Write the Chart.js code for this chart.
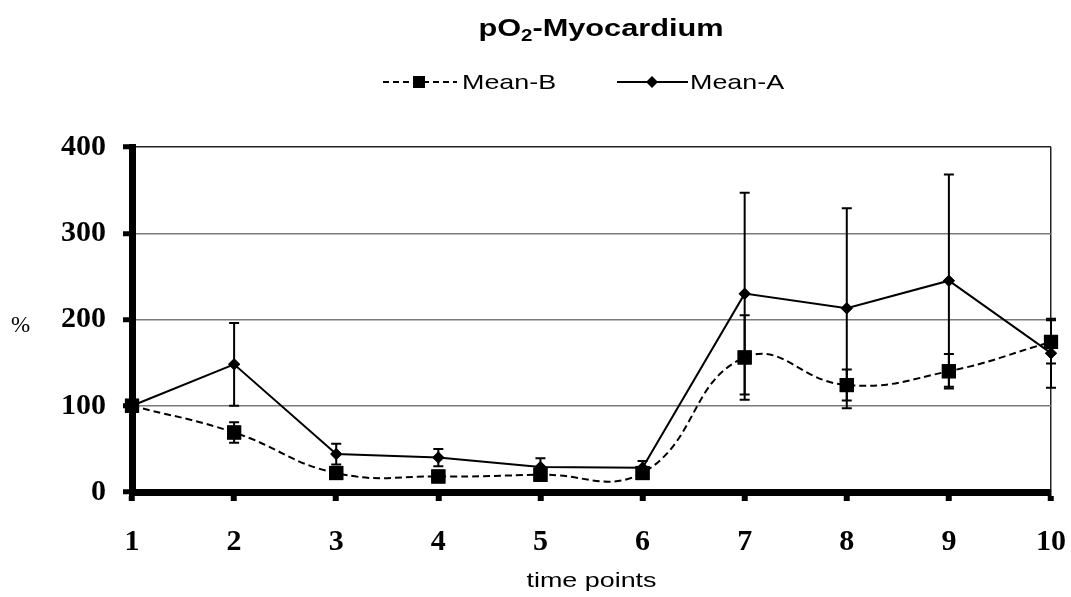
<!DOCTYPE html>
<html lang="en">
<head>
<meta charset="UTF-8">
<title>pO2-Myocardium</title>
<script src="https://cdn.jsdelivr.net/npm/chart.js"></script>
<style>
  html, body { margin: 0; padding: 0; background: #fff; }
  #wrap { width: 1071px; height: 597px; }
</style>
</head>
<body>
<div id="wrap"><canvas id="po2Chart" width="1071" height="597"></canvas></div>
<script>
// time points on the x axis
const timePoints = ['1', '2', '3', '4', '5', '6', '7', '8', '9', '10'];

// group B (dashed, squares) - mean and error
const meanB = [100, 69, 22, 18, 20, 22, 156, 124, 140, 174];
const errB  = [0, 12, 3, 3, 3, 3, 49, 18, 20, 25];

// group A (solid, diamonds) - mean and error
const meanA = [100, 148, 44, 40, 29, 28, 230, 213, 245, 161];
const errA  = [0, 48, 12, 10, 10, 8, 117, 116, 123, 40];

const yMin = 0, yMax = 400, yStep = 100;

const serifBold = { family: '"Liberation Serif", "Times New Roman", serif', size: 30, weight: 'bold' };
const sans = '"Liberation Sans", Arial, sans-serif';
const sansStretch = 1.28; // the sans labels are set wide

// text drawn with a horizontal stretch, x is the left edge (or centre)
function wideText(ctx, text, x, y, centred) {
  const w = ctx.measureText(text).width * sansStretch;
  ctx.save();
  ctx.translate(centred ? x - w / 2 : x, y);
  ctx.scale(sansStretch, 1);
  ctx.fillText(text, 0, 0);
  ctx.restore();
  return w;
}

// vertical error bars with caps, markers redrawn on top
const errorBars = {
  id: 'errorBars',
  afterDatasetsDraw(chart) {
    const ctx = chart.ctx;
    const y = chart.scales.y;
    chart.data.datasets.forEach((ds, i) => {
      const meta = chart.getDatasetMeta(i);
      ctx.save();
      ctx.strokeStyle = '#000';
      ctx.lineWidth = 2;
      meta.data.forEach((pt, j) => {
        const e = ds.errors[j];
        if (!e) return;
        const top = y.getPixelForValue(ds.data[j] + e);
        const bot = y.getPixelForValue(ds.data[j] - e);
        ctx.beginPath();
        ctx.moveTo(pt.x, top); ctx.lineTo(pt.x, bot);
        ctx.moveTo(pt.x - 5, top); ctx.lineTo(pt.x + 5, top);
        ctx.moveTo(pt.x - 5, bot); ctx.lineTo(pt.x + 5, bot);
        ctx.stroke();
      });
      ctx.restore();
      meta.data.forEach(pt => pt.draw(ctx, chart.chartArea));
    });
  }
};

// title with subscript, axis labels and the legend
const decorations = {
  id: 'decorations',
  afterDraw(chart) {
    const ctx = chart.ctx;
    const area = chart.chartArea;
    ctx.save();
    ctx.fillStyle = '#000';
    ctx.textBaseline = 'alphabetic';

    // title: pO2-Myocardium
    const big = 'bold 24px ' + sans, small = 'bold 16px ' + sans;
    ctx.font = big;
    const w1 = ctx.measureText('pO').width * sansStretch;
    const w3 = ctx.measureText('-Myocardium').width * sansStretch;
    ctx.font = small;
    const w2 = ctx.measureText('2').width * sansStretch;
    const tx = 601 - (w1 + w2 + w3) / 2;
    ctx.font = big;
    wideText(ctx, 'pO', tx, 36);
    ctx.font = small;
    wideText(ctx, '2', tx + w1, 41);
    ctx.font = big;
    wideText(ctx, '-Myocardium', tx + w1 + w2, 36);

    // y axis label
    ctx.font = '23px "Liberation Serif", "Times New Roman", serif';
    ctx.textBaseline = 'middle';
    ctx.fillText('%', 11, 326);

    // x axis label
    ctx.font = '21px ' + sans;
    wideText(ctx, 'time points', (area.left + area.right) / 2, 581, true);

    // legend
    const ly = 82;
    ctx.strokeStyle = '#000';
    ctx.lineWidth = 2;
    ctx.setLineDash([6, 4]);
    ctx.beginPath(); ctx.moveTo(383, ly); ctx.lineTo(457, ly); ctx.stroke();
    ctx.setLineDash([]);
    ctx.fillRect(413, ly - 6, 12, 12);
    ctx.beginPath(); ctx.moveTo(617, ly); ctx.lineTo(688, ly); ctx.stroke();
    ctx.beginPath();
    ctx.moveTo(652 - 6, ly); ctx.lineTo(652, ly - 6); ctx.lineTo(652 + 6, ly); ctx.lineTo(652, ly + 6);
    ctx.closePath(); ctx.fill();
    ctx.font = '21px ' + sans;
    wideText(ctx, 'Mean-B', 462, ly + 1);
    wideText(ctx, 'Mean-A', 690, ly + 1);
    ctx.restore();
  }
};

new Chart(document.getElementById('po2Chart'), {
  type: 'line',
  data: {
    labels: timePoints,
    datasets: [
      {
        label: 'Mean-B',
        data: meanB,
        errors: errB,
        borderColor: '#000',
        backgroundColor: '#000',
        borderWidth: 2,
        borderDash: [7, 4],
        tension: 0.45,
        pointStyle: 'rect',
        pointRadius: 10,
        pointBorderWidth: 0
      },
      {
        label: 'Mean-A',
        data: meanA,
        errors: errA,
        borderColor: '#000',
        backgroundColor: '#000',
        borderWidth: 2,
        tension: 0,
        pointStyle: 'rectRot',
        pointRadius: 6,
        pointBorderWidth: 0
      }
    ]
  },
  options: {
    responsive: false,
    devicePixelRatio: 1,
    animation: false,
    layout: { padding: { top: 147, right: 0, left: 0, bottom: 0 } },
    plugins: {
      legend: { display: false },
      title: { display: false },
      tooltip: { enabled: false }
    },
    scales: {
      x: {
        type: 'category',
        offset: false,
        // fixed height, and only a small right margin for the last label
        afterFit: s => { s.height = 105; s.paddingRight = 20; },
        grid: {
          color: c => c.index === timePoints.length - 1 ? '#222' : 'rgba(0,0,0,0)',
          lineWidth: 1.5,
          tickColor: '#000',
          tickWidth: 6,
          tickLength: 9
        },
        border: { color: '#000', width: 7 },
        ticks: { color: '#000', font: serifBold, padding: 23, maxRotation: 0, autoSkip: false }
      },
      y: {
        min: yMin,
        max: yMax,
        afterFit: s => { s.width = 132; },
        grid: {
          color: c => c.tick.value === yMax ? '#222' : '#7a7a7a',
          lineWidth: 1.5,
          tickColor: '#000',
          tickWidth: 5,
          tickLength: 9
        },
        border: { color: '#000', width: 7 },
        ticks: { stepSize: yStep, color: '#000', font: serifBold, padding: 17 }
      }
    }
  },
  plugins: [errorBars, decorations]
});
</script>
</body>
</html>
